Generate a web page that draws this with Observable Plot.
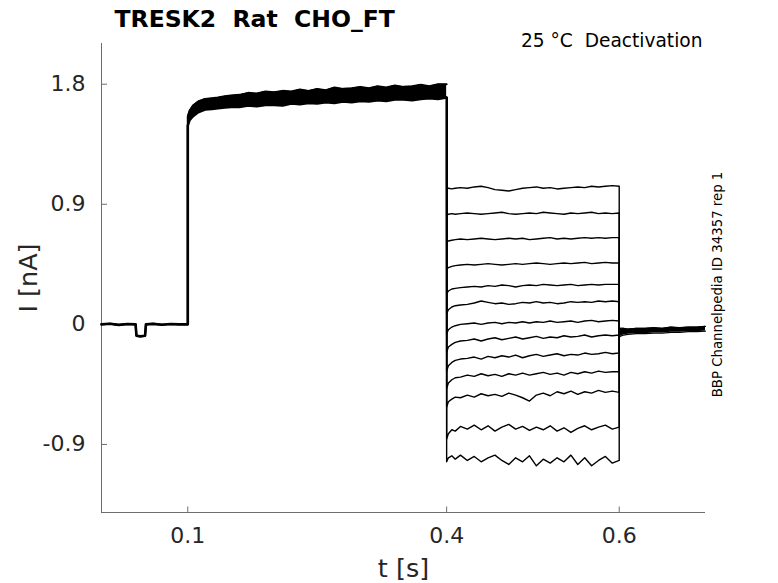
<!DOCTYPE html>
<html>
<head>
<meta charset="utf-8">
<script src="https://cdn.jsdelivr.net/npm/d3@7"></script>
<script src="https://cdn.jsdelivr.net/npm/@observablehq/plot@0.6"></script>
<style>
  html, body { margin: 0; padding: 0; background: white; }
  svg text { white-space: pre; }
</style>
</head>
<body>
<div id="chart"></div>
<script>
// ---- axis ticks ----
const xTicks = [0.1, 0.4, 0.6];
const yTicks = [-0.9, 0, 0.9, 1.8];

// ---- holding segment (all sweeps overlap) ----
const tPre = [0, 0.01, 0.02, 0.03, 0.0395, 0.0405, 0.045, 0.0505, 0.0515, 0.06, 0.07, 0.08, 0.09, 0.1];
const iPre = [0.0, 0.005, -0.004, 0.003, 0.0, -0.085, -0.09, -0.085, 0.0, 0.004, -0.003, 0.003, 0.0, 0.0];

// ---- activation step (envelope of all sweeps) ----
const tAct = [0.1, 0.102, 0.106, 0.112, 0.12, 0.128, 0.135, 0.143, 0.15, 0.16, 0.17, 0.18, 0.19, 0.2, 0.21, 0.22, 0.23, 0.24, 0.25, 0.26, 0.27, 0.28, 0.29, 0.3, 0.31, 0.32, 0.33, 0.34, 0.35, 0.36, 0.37, 0.38, 0.39, 0.4];
const iActHigh = [1.56, 1.60, 1.64, 1.67, 1.69, 1.695, 1.70, 1.71, 1.715, 1.72, 1.735, 1.73, 1.745, 1.74, 1.75, 1.745, 1.76, 1.75, 1.765, 1.755, 1.775, 1.765, 1.77, 1.78, 1.77, 1.785, 1.775, 1.79, 1.78, 1.785, 1.795, 1.785, 1.80, 1.80];
const iActLow  = [1.49, 1.53, 1.56, 1.59, 1.61, 1.615, 1.62, 1.625, 1.63, 1.63, 1.64, 1.635, 1.645, 1.645, 1.64, 1.655, 1.65, 1.66, 1.655, 1.665, 1.66, 1.67, 1.665, 1.675, 1.67, 1.68, 1.675, 1.685, 1.685, 1.68, 1.69, 1.695, 1.69, 1.70];

// ---- deactivation step: 13 sweeps ----
const tDeact = [0.4, 0.402, 0.406, 0.41, 0.416, 0.424, 0.432, 0.44, 0.448, 0.456, 0.464, 0.472, 0.48, 0.488, 0.496, 0.504, 0.512, 0.52, 0.528, 0.536, 0.544, 0.552, 0.56, 0.568, 0.576, 0.584, 0.592, 0.6];
const sweep1  = [1.02, 1.02, 1.015, 1.02, 1.025, 1.02, 1.03, 1.035, 1.025, 1.01, 1.005, 1.0, 1.01, 1.02, 1.025, 1.03, 1.02, 1.025, 1.015, 1.02, 1.025, 1.03, 1.025, 1.035, 1.03, 1.035, 1.04, 1.035];
const sweep2  = [0.82, 0.825, 0.83, 0.825, 0.83, 0.835, 0.83, 0.825, 0.83, 0.835, 0.84, 0.83, 0.825, 0.83, 0.835, 0.83, 0.84, 0.835, 0.83, 0.825, 0.835, 0.83, 0.835, 0.84, 0.83, 0.835, 0.83, 0.835];
const sweep3  = [0.62, 0.625, 0.63, 0.635, 0.64, 0.635, 0.64, 0.645, 0.64, 0.635, 0.64, 0.645, 0.64, 0.645, 0.635, 0.64, 0.645, 0.65, 0.64, 0.645, 0.64, 0.645, 0.65, 0.645, 0.65, 0.645, 0.65, 0.65];
const sweep4  = [0.41, 0.425, 0.435, 0.44, 0.445, 0.45, 0.445, 0.45, 0.455, 0.45, 0.445, 0.45, 0.455, 0.45, 0.455, 0.46, 0.455, 0.45, 0.455, 0.46, 0.455, 0.46, 0.465, 0.455, 0.46, 0.465, 0.46, 0.46];
const sweep5  = [0.23, 0.25, 0.265, 0.27, 0.275, 0.28, 0.285, 0.28, 0.29, 0.285, 0.295, 0.29, 0.28, 0.29, 0.295, 0.29, 0.3, 0.295, 0.29, 0.295, 0.3, 0.29, 0.295, 0.3, 0.295, 0.3, 0.3, 0.3];
const sweep6  = [0.08, 0.11, 0.13, 0.14, 0.145, 0.15, 0.16, 0.175, 0.165, 0.155, 0.16, 0.15, 0.155, 0.165, 0.16, 0.17, 0.16, 0.165, 0.155, 0.16, 0.17, 0.165, 0.17, 0.165, 0.175, 0.17, 0.175, 0.17];
const sweep7  = [-0.07, -0.04, -0.02, -0.01, 0.0, 0.005, 0.01, 0.0, 0.01, 0.015, 0.005, 0.015, 0.01, 0.02, 0.01, 0.02, 0.015, 0.025, 0.015, 0.02, 0.025, 0.015, 0.025, 0.03, 0.02, 0.025, 0.03, 0.025];
const sweep8  = [-0.21, -0.17, -0.15, -0.135, -0.125, -0.12, -0.11, -0.125, -0.11, -0.1, -0.115, -0.105, -0.095, -0.11, -0.1, -0.09, -0.105, -0.095, -0.1, -0.085, -0.095, -0.09, -0.08, -0.095, -0.085, -0.08, -0.085, -0.08];
const sweep9  = [-0.35, -0.31, -0.285, -0.27, -0.26, -0.255, -0.245, -0.26, -0.24, -0.25, -0.235, -0.245, -0.23, -0.25, -0.235, -0.225, -0.24, -0.23, -0.22, -0.235, -0.225, -0.23, -0.215, -0.225, -0.22, -0.21, -0.22, -0.215];
const sweep10 = [-0.48, -0.44, -0.415, -0.4, -0.395, -0.38, -0.39, -0.37, -0.385, -0.375, -0.39, -0.37, -0.38, -0.365, -0.38, -0.37, -0.36, -0.375, -0.365, -0.38, -0.36, -0.37, -0.355, -0.365, -0.35, -0.36, -0.355, -0.355];
const sweep11 = [-0.62, -0.58, -0.56, -0.545, -0.55, -0.53, -0.545, -0.52, -0.535, -0.525, -0.54, -0.515, -0.53, -0.55, -0.575, -0.53, -0.515, -0.535, -0.505, -0.52, -0.5, -0.525, -0.505, -0.515, -0.495, -0.51, -0.5, -0.51];
const sweep12 = [-0.86, -0.82, -0.79, -0.8, -0.765, -0.785, -0.755, -0.79, -0.76, -0.8, -0.77, -0.75, -0.785, -0.765, -0.795, -0.77, -0.79, -0.76, -0.8, -0.775, -0.81, -0.78, -0.76, -0.79, -0.77, -0.755, -0.785, -0.77];
const sweep13 = [-1.03, -1.0, -0.985, -1.01, -0.98, -1.02, -0.99, -1.03, -1.0, -0.98, -1.02, -1.05, -1.0, -1.03, -0.985, -1.06, -1.01, -1.04, -1.0, -1.03, -0.98, -1.05, -1.0, -1.06, -1.02, -0.99, -1.04, -1.02];
const sweeps = [sweep1, sweep2, sweep3, sweep4, sweep5, sweep6, sweep7, sweep8, sweep9, sweep10, sweep11, sweep12, sweep13];

// ---- tail after return to holding (envelope of all sweeps) ----
const tTail = [0.6, 0.601, 0.605, 0.61, 0.62, 0.63, 0.64, 0.65, 0.66, 0.67, 0.68, 0.69, 0.7];
const iTailHigh = [-0.03, -0.03, -0.03, -0.035, -0.03, -0.03, -0.025, -0.03, -0.02, -0.025, -0.02, -0.02, -0.015];
const iTailLow  = [-0.10, -0.09, -0.08, -0.075, -0.07, -0.07, -0.065, -0.065, -0.06, -0.06, -0.055, -0.055, -0.05];

// ---- build tables ----
const preRows = tPre.map((t, k) => ({t, i: iPre[k]}));
const actLowLine = preRows.concat(tAct.map((t, k) => ({t, i: iActLow[k]})));
const actHighLine = preRows.concat(tAct.map((t, k) => ({t, i: iActHigh[k]})));
const actBand = tAct.map((t, k) => ({t, lo: iActLow[k], hi: iActHigh[k]}));
const tailBand = tTail.map((t, k) => ({t, lo: iTailLow[k], hi: iTailHigh[k]}));
const tailStart = (iTailLow[0] + iTailHigh[0]) / 2;
const deactRows = sweeps.flatMap((s, n) => [
  {sweep: n, t: tAct[tAct.length - 1], i: iActLow[iActLow.length - 1]},
  ...tDeact.map((t, k) => ({sweep: n, t, i: s[k]})),
  {sweep: n, t: tTail[0], i: tailStart}
]);

const axisGray = "#6e6e6e";
const textGray = "#262626";
const font = "DejaVu Sans, Verdana, sans-serif";

const chart = Plot.plot({
  width: 778,
  height: 583,
  marginTop: 43,
  marginBottom: 71,
  marginLeft: 101,
  marginRight: 73,
  style: {fontFamily: font, background: "white", overflow: "visible"},
  x: {domain: [0, 0.7]},
  y: {domain: [-1.41, 2.105]},
  marks: [
    Plot.ruleX([0], {stroke: axisGray, strokeWidth: 1}),
    Plot.ruleY([-1.41], {stroke: axisGray, strokeWidth: 1}),
    Plot.axisX(xTicks, {tickSize: -5.5, tickPadding: 20, fontSize: 22, stroke: axisGray, fill: textGray, label: null, tickFormat: d => String(d)}),
    Plot.axisY(yTicks, {tickSize: -6, tickPadding: 22, fontSize: 22, stroke: axisGray, fill: textGray, label: null, tickFormat: d => String(d)}),
    // activation band
    Plot.areaY(actBand, {x: "t", y1: "lo", y2: "hi", fill: "black"}),
    Plot.line(actLowLine, {x: "t", y: "i", stroke: "black", strokeWidth: 2.6}),
    Plot.line(actHighLine, {x: "t", y: "i", stroke: "black", strokeWidth: 2}),
    // deactivation sweeps
    Plot.line(deactRows, {x: "t", y: "i", z: "sweep", stroke: "black", strokeWidth: 1.4}),
    // tail
    Plot.areaY(tailBand, {x: "t", y1: "lo", y2: "hi", fill: "black"}),
    Plot.line(tailBand, {x: "t", y: "lo", stroke: "black", strokeWidth: 1.2}),
    Plot.line(tailBand, {x: "t", y: "hi", stroke: "black", strokeWidth: 1.2}),
    // texts
    Plot.text(["TRESK2  Rat  CHO_FT"], {frameAnchor: "top-left", textAnchor: "start", lineAnchor: "bottom", dx: 13, dy: -16.3, fontSize: 23.5, fontWeight: "bold", fill: "black"}),
    Plot.text(["25 °C  Deactivation"], {frameAnchor: "top-right", textAnchor: "end", lineAnchor: "bottom", dx: -3, dy: 3.7, fontSize: 18.6, fill: "black"}),
    Plot.text(["BBP Channelpedia ID 34357 rep 1"], {frameAnchor: "right", textAnchor: "middle", lineAnchor: "middle", rotate: -90, dx: 12, dy: 6.5, fontSize: 13.3, fill: "black"}),
    Plot.text(["I [nA]"], {frameAnchor: "left", textAnchor: "middle", lineAnchor: "middle", rotate: -90, dx: -73, fontSize: 25.5, fill: textGray}),
    Plot.text(["t [s]"], {frameAnchor: "bottom", textAnchor: "middle", lineAnchor: "middle", dy: 56, fontSize: 25.5, fill: textGray})
  ]
});
document.getElementById("chart").appendChild(chart);
</script>
</body>
</html>
